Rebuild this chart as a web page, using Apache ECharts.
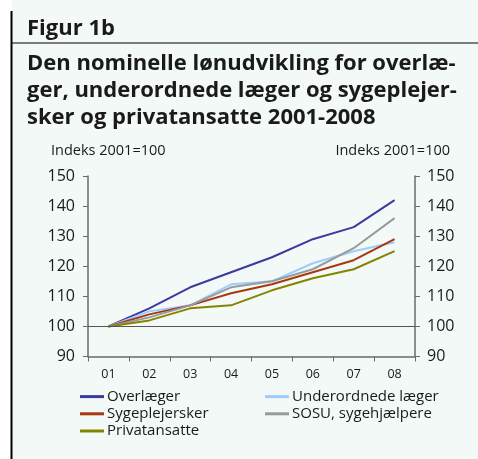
<!DOCTYPE html>
<html>
<head>
<meta charset="utf-8">
<script src="https://cdn.jsdelivr.net/npm/echarts@6/dist/echarts.min.js"></script>
<style>
  html, body { margin: 0; padding: 0; background: #ffffff; }
  #chart { width: 478px; height: 459px; }
</style>
</head>
<body>
<div id="chart"></div>
<script>
// data (index 2001 = 100)
var years = ['01', '02', '03', '04', '05', '06', '07', '08'];
var overlaeger = [100, 106, 113, 118, 123, 129, 133, 142];
var underordnede = [100, 105, 107, 114, 115, 121, 125, 128];
var sygeplejersker = [100, 104, 107, 111, 114, 118, 122, 129];
var sosu = [100, 103, 107, 113, 115, 119, 126, 136];
var privat = [100, 102, 106, 107, 112, 116, 119, 125];

var fontFam = '"Open Sans", "Noto Sans", sans-serif';
var txt = '#1a1a1a';
var axisCol = '#6b6b6b';

function lineSeries(name, data, color) {
    return {
        name: name,
        type: 'line',
        data: data,
        symbol: 'none',
        lineStyle: { color: color, width: 2 },
        itemStyle: { color: color },
        z: 3
    };
}

var myChart = echarts.init(document.getElementById('chart'));

var legendText = { fontFamily: fontFam, fontSize: 15, color: txt, padding: [0, 0, 0, -2], lineHeight: 17.2 };

var option = {
    backgroundColor: '#ffffff',
    animation: false,
    graphic: [
        // mint panel and frame lines
        { type: 'rect', shape: { x: 12, y: 0, width: 466, height: 459 }, style: { fill: '#f2f9f6' }, z: -10 },
        { type: 'line', shape: { x1: 11.5, y1: 11, x2: 11.5, y2: 459 }, style: { stroke: '#000', lineWidth: 2 } },
        { type: 'line', shape: { x1: 12, y1: 43, x2: 478, y2: 43 }, style: { stroke: '#000', lineWidth: 1 } },
        { type: 'text', left: 27, top: 18, style: { text: 'Figur 1b', font: 'bold 22px ' + fontFam, fill: txt } },
        { type: 'text', left: 27, top: 50, style: {
            text: 'Den nominelle lønudvikling for overlæ-\nger, underordnede læger og sygeplejer-\nsker og privatansatte 2001-2008',
            font: 'bold 22px ' + fontFam, lineHeight: 27, fill: txt } },
        { type: 'text', left: 51, top: 143, style: { text: 'Indeks 2001=100', font: '14.5px ' + fontFam, fill: txt } },
        { type: 'text', right: 28, top: 143, style: { text: 'Indeks 2001=100', font: '14.5px ' + fontFam, fill: txt } }
    ],
    grid: { left: 88, right: 63, top: 176, bottom: 102.5 },
    legend: [{
        orient: 'vertical',
        left: 75,
        top: 383,
        itemWidth: 24,
        itemHeight: 3,
        itemGap: 0,
        icon: 'rect',
        textStyle: legendText,
        data: ['Overlæger', 'Sygeplejersker', 'Privatansatte']
    }, {
        orient: 'vertical',
        left: 260,
        top: 383,
        itemWidth: 24,
        itemHeight: 3,
        itemGap: 0,
        icon: 'rect',
        textStyle: legendText,
        data: ['Underordnede læger', 'SOSU, sygehjælpere']
    }],
    xAxis: {
        type: 'category',
        data: years,
        boundaryGap: true,
        axisLine: { lineStyle: { color: axisCol, width: 1.5 } },
        axisTick: { show: true, length: 5, lineStyle: { color: axisCol } },
        axisLabel: { fontFamily: fontFam, fontSize: 12.5, color: txt, margin: 11 }
    },
    yAxis: [{
        type: 'value',
        min: 90,
        max: 150,
        interval: 10,
        position: 'left',
        axisLine: { show: true, lineStyle: { color: axisCol, width: 1.5 } },
        axisTick: { show: true, length: 5, lineStyle: { color: axisCol } },
        splitLine: { show: false },
        axisLabel: { fontFamily: fontFam, fontSize: 16, color: txt, margin: 13 }
    }, {
        type: 'value',
        min: 90,
        max: 150,
        interval: 10,
        position: 'right',
        axisLine: { show: true, lineStyle: { color: axisCol, width: 1.5 } },
        axisTick: { show: true, length: 5, lineStyle: { color: axisCol } },
        splitLine: { show: false },
        axisLabel: { fontFamily: fontFam, fontSize: 16, color: txt, margin: 12 }
    }],
    series: [
        Object.assign(lineSeries('Overlæger', overlaeger, '#3b3b9f'), {
            // reference line at 100
            markLine: {
                silent: true,
                symbol: 'none',
                label: { show: false },
                lineStyle: { color: '#555', width: 1, type: 'solid' },
                data: [{ yAxis: 100 }]
            }
        }),
        lineSeries('Underordnede læger', underordnede, '#9dccff'),
        lineSeries('Sygeplejersker', sygeplejersker, '#a8380f'),
        lineSeries('SOSU, sygehjælpere', sosu, '#9a9a9a'),
        lineSeries('Privatansatte', privat, '#848400')
    ]
};

myChart.setOption(option);
</script>
</body>
</html>
